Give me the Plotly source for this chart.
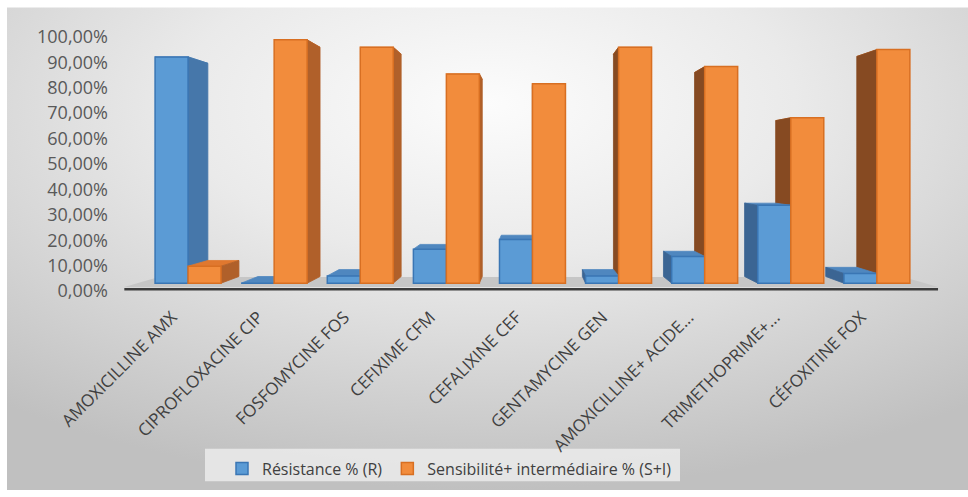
import base64
import plotly.graph_objects as go

# Antibiotic susceptibility results
categories = [
    "AMOXICILLINE AMX",
    "CIPROFLOXACINE CIP",
    "FOSFOMYCINE FOS",
    "CEFIXIME CFM",
    "CEFALIXINE CEF",
    "GENTAMYCINE GEN",
    "AMOXICILLINE+ ACIDE...",
    "TRIMETHOPRIME+...",
    "CÉFOXITINE FOX",
]
resistance = [0.93, 0.00, 0.03, 0.14, 0.18, 0.03, 0.11, 0.32, 0.04]
sensibilite = [0.07, 1.00, 0.97, 0.86, 0.82, 0.97, 0.89, 0.68, 0.96]
series_names = ["Résistance % (R)", "Sensibilité+ intermédiaire % (S+I)"]
value_ticks = [i / 10 for i in range(11)]

# Colours: front, right side, left side, top, edge
BLUE = dict(front="#5b9bd5", side_r="#4677aa", side_l="#3b6593", top="#4f87bf", edge="#3a76b4")
ORANGE = dict(front="#f28c3c", side_r="#b0602a", side_l="#864a22", top="#e0782f", edge="#d86f22")

BAR_W = 0.383            # width of one bar in category units
VX, VY = 3.97, 0.474     # vanishing point (x in category units, y in value units)
DEPTH = 0.058            # bar depth as a shrink factor toward the vanishing point
FLOOR_DEPTH = 0.085


def back(x, y, s=DEPTH):
    return (VX + (x - VX) * (1 - s), VY + (y - VY) * (1 - s))


def path(points):
    return "M " + " L ".join(f"{px:.4f},{py:.4f}" for px, py in points) + " Z"


def bar_faces(x0, x1, h, col):
    faces = []
    # top face (hidden behind the front for tall bars)
    faces.append((path([(x0, h), (x1, h), back(x1, h), back(x0, h)]), col["top"]))
    if x1 <= VX:
        faces.append((path([(x1, 0), (x1, h), back(x1, h), back(x1, 0)]), col["side_r"]))
    elif x0 >= VX:
        faces.append((path([(x0, 0), (x0, h), back(x0, h), back(x0, 0)]), col["side_l"]))
    return faces


shapes = []

# floor slab
floor_l, floor_r, floor_y = -0.74, 8.71, -0.016
shapes.append(dict(
    type="path", xref="x", yref="y2", layer="below",
    path=path([(floor_l, floor_y), (floor_r, floor_y),
               back(floor_r, floor_y, FLOOR_DEPTH), back(floor_l, floor_y, FLOOR_DEPTH)]),
    fillcolor="#c6c6c6", line=dict(width=0),
))
shapes.append(dict(
    type="line", xref="x", yref="y2", layer="below",
    x0=floor_l, x1=floor_r, y0=-0.025, y1=-0.025,
    line=dict(color="#3c3c3c", width=2.5),
))

# side and top faces, painted back to front
for i, (r, s) in enumerate(zip(resistance, sensibilite)):
    blue = bar_faces(i - BAR_W, i, r, BLUE)
    orange = bar_faces(i, i + BAR_W, s, ORANGE)
    order = blue + orange if i < VX else orange + blue
    for p, c in order:
        shapes.append(dict(type="path", xref="x", yref="y2", layer="below",
                           path=p, fillcolor=c, line=dict(color=c, width=0.8)))

# legend frame
shapes.append(dict(type="rect", xref="paper", yref="paper", layer="below",
                   x0=(205 - 112) / 838, x1=(680 - 112) / 838,
                   y0=(300 - 488) / 270, y1=(300 - 455) / 270,
                   fillcolor="rgba(238,238,238,0.8)", line=dict(width=0)))

fig = go.Figure()
fig.add_trace(go.Bar(
    x=[i - BAR_W / 2 for i in range(len(categories))], y=resistance, width=BAR_W,
    yaxis="y2", name=series_names[0],
    marker=dict(color=BLUE["front"], line=dict(color=BLUE["edge"], width=1.5)),
))
fig.add_trace(go.Bar(
    x=[i + BAR_W / 2 for i in range(len(categories))], y=sensibilite, width=BAR_W,
    yaxis="y2", name=series_names[1],
    marker=dict(color=ORANGE["front"], line=dict(color=ORANGE["edge"], width=1.5)),
))
# carrier for the value axis labels
fig.add_trace(go.Scatter(x=[0], y=[0], mode="markers", marker=dict(opacity=0),
                         showlegend=False, hoverinfo="skip"))

svg = (
    '<svg xmlns="http://www.w3.org/2000/svg" width="961" height="490" '
    'viewBox="0 0 961 490" preserveAspectRatio="none"><defs>'
    '<radialGradient id="g" cx="0.5" cy="0.2" r="0.8">'
    '<stop offset="0" stop-color="#fcfcfc"/><stop offset="0.4" stop-color="#eaeaea"/>'
    '<stop offset="1" stop-color="#c0c0c0"/></radialGradient></defs>'
    '<rect width="961" height="490" fill="url(#g)"/></svg>'
)
bg_src = "data:image/svg+xml;base64," + base64.b64encode(svg.encode()).decode()

fig.update_layout(
    width=968, height=497,
    margin=dict(l=112, r=18, t=30, b=197),
    paper_bgcolor="white", plot_bgcolor="rgba(0,0,0,0)",
    separators=", ",
    barmode="overlay",
    font=dict(family="Open Sans, Calibri, sans-serif", color="#595959"),
    images=[dict(source=bg_src, xref="paper", yref="paper",
                 x=(7 - 112) / 838, y=(300 - 7) / 270,
                 sizex=961 / 838, sizey=490 / 270,
                 xanchor="left", yanchor="top", sizing="stretch", layer="below")],
    shapes=shapes,
    xaxis=dict(
        range=[-0.8832, 8.849], tickvals=list(range(len(categories))), ticktext=categories,
        tickangle=-45, showgrid=False, zeroline=False, showline=False, ticks="",
        tickfont=dict(size=17, color="#404040"), anchor="y",
        ticklabelstandoff=12, ticklabelshift=-16,
    ),
    yaxis=dict(
        domain=[0.0185, 0.974], range=[0, 1], tickvals=value_ticks, tickformat=".2%",
        showgrid=False, zeroline=False, showline=False, ticks="",
        tickfont=dict(size=18, color="#595959"), anchor="x", ticklabelstandoff=3,
    ),
    yaxis2=dict(domain=[0, 1], range=[-0.05263, 1.0405], visible=False, anchor="x"),
    legend=dict(
        orientation="h", x=(222 - 112) / 838, y=(300 - 458) / 270,
        xanchor="left", yanchor="top",
        font=dict(size=16, color="#404040"), bgcolor="rgba(0,0,0,0)",
    ),
    showlegend=True,
)

fig.write_html("out.html")
